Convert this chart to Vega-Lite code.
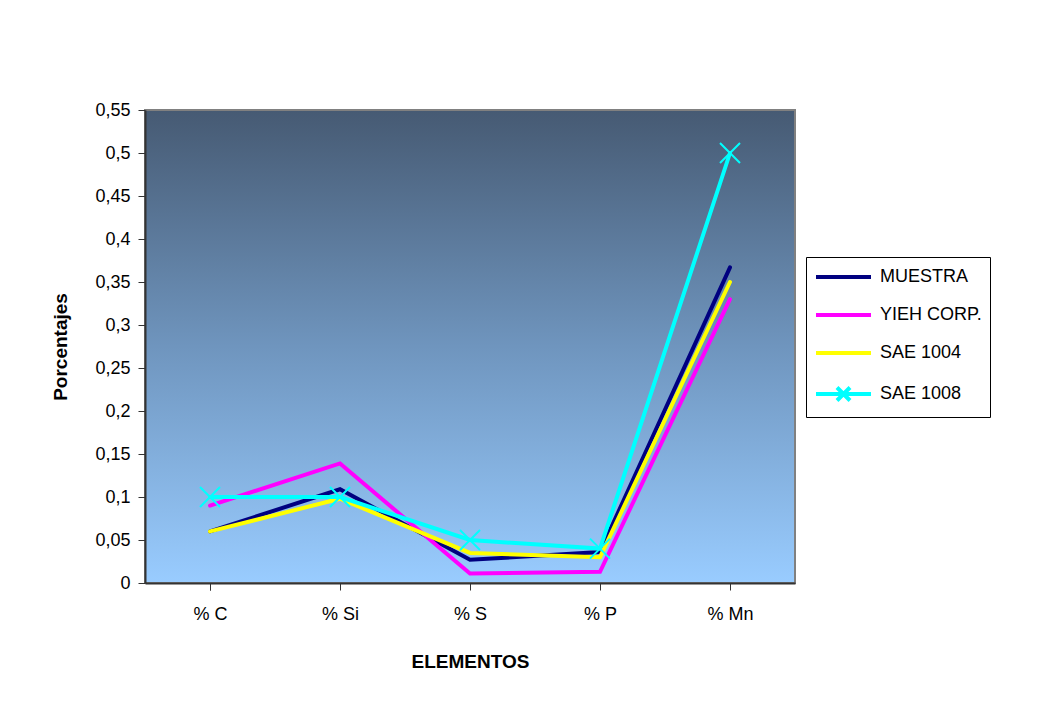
{
  "$schema": "https://vega.github.io/schema/vega-lite/v6.json",
  "width": 650,
  "height": 473,
  "autosize": {"type": "none"},
  "padding": {"left": 145, "top": 110, "right": 257, "bottom": 129},
  "background": "white",
  "data": {
    "values": [
      {"serie": "MUESTRA", "elem": "% C", "v": 0.06},
      {"serie": "MUESTRA", "elem": "% Si", "v": 0.109},
      {"serie": "MUESTRA", "elem": "% S", "v": 0.027},
      {"serie": "MUESTRA", "elem": "% P", "v": 0.036},
      {"serie": "MUESTRA", "elem": "% Mn", "v": 0.367},
      {"serie": "YIEH CORP.", "elem": "% C", "v": 0.09},
      {"serie": "YIEH CORP.", "elem": "% Si", "v": 0.139},
      {"serie": "YIEH CORP.", "elem": "% S", "v": 0.011},
      {"serie": "YIEH CORP.", "elem": "% P", "v": 0.013},
      {"serie": "YIEH CORP.", "elem": "% Mn", "v": 0.33},
      {"serie": "SAE 1004", "elem": "% C", "v": 0.06},
      {"serie": "SAE 1004", "elem": "% Si", "v": 0.098},
      {"serie": "SAE 1004", "elem": "% S", "v": 0.035},
      {"serie": "SAE 1004", "elem": "% P", "v": 0.03},
      {"serie": "SAE 1004", "elem": "% Mn", "v": 0.35},
      {"serie": "SAE 1008", "elem": "% C", "v": 0.1},
      {"serie": "SAE 1008", "elem": "% Si", "v": 0.1},
      {"serie": "SAE 1008", "elem": "% S", "v": 0.05},
      {"serie": "SAE 1008", "elem": "% P", "v": 0.04},
      {"serie": "SAE 1008", "elem": "% Mn", "v": 0.5}
    ]
  },
  "encoding": {
    "x": {
      "field": "elem", "type": "nominal", "sort": null,
      "scale": {"type": "point", "padding": 0.5},
      "axis": {
        "title": "ELEMENTOS", "labelAngle": 0, "tickBand": "extent",
        "labelPadding": 15, "titlePadding": 29
      }
    },
    "y": {
      "field": "v", "type": "quantitative",
      "scale": {"domain": [0, 0.55], "nice": false, "zero": true},
      "axis": {
        "title": "Porcentajes",
        "values": [0, 0.05, 0.1, 0.15, 0.2, 0.25, 0.3, 0.35, 0.4, 0.45, 0.5, 0.55],
        "labelExpr": "replace(format(datum.value, '.2~f'), '.', ',')",
        "grid": false,
        "labelPadding": 8,
        "titlePadding": 24
      }
    }
  },
  "layer": [
    {
      "mark": {"type": "line", "strokeWidth": 4, "strokeCap": "round", "strokeJoin": "miter"},
      "encoding": {
        "color": {
          "field": "serie", "type": "nominal",
          "scale": {
            "domain": ["MUESTRA", "YIEH CORP.", "SAE 1004", "SAE 1008"],
            "range": ["#000080", "#ff00ff", "#ffff00", "#00ffff"]
          },
          "legend": {
            "title": null,
            "orient": "none",
            "legendX": 661,
            "legendY": 147,
            "symbolType": "M-1,0L4.5,0",
            "symbolSize": 400,
            "symbolStrokeWidth": 4,
            "labelFontSize": 18,
            "labelFont": "Liberation Sans",
            "labelColor": "#000000",
            "rowPadding": 17,
            "strokeColor": "#000000",
            "fillColor": "#ffffff",
            "padding": 8,
            "labelOffset": 42,
            "encode": {
              "symbols": {
                "update": {
                  "shape": {"signal": "datum.value === 'SAE 1008' ? 'M-1,0L4.5,0M1.1,-0.65L2.4,0.65M1.1,0.65L2.4,-0.65' : 'M-1,0L4.5,0'"}
                }
              }
            }
          }
        }
      }
    },
    {
      "transform": [{"filter": "datum.serie === 'SAE 1008'"}],
      "mark": {
        "type": "point",
        "shape": "M-1,-1L1,1M-1,1L1,-1",
        "filled": false,
        "size": 400,
        "strokeWidth": 2,
        "color": "#00ffff",
        "opacity": 1
      }
    }
  ],
  "config": {
    "font": "Liberation Sans",
    "view": {
      "fill": {
        "gradient": "linear", "x1": 0, "y1": 0, "x2": 0, "y2": 1,
        "stops": [
          {"offset": 0, "color": "#465a73"},
          {"offset": 0.5, "color": "#6f95be"},
          {"offset": 1, "color": "#99ccff"}
        ]
      },
      "stroke": "#808080",
      "strokeWidth": 2
    },
    "axis": {
      "labelFontSize": 18,
      "labelColor": "#000000",
      "titleFontSize": 19,
      "titleFontWeight": "bold",
      "titleColor": "#000000",
      "domainColor": "#333333",
      "domainWidth": 2,
      "tickColor": "#333333",
      "tickSize": 7
    }
  }
}
